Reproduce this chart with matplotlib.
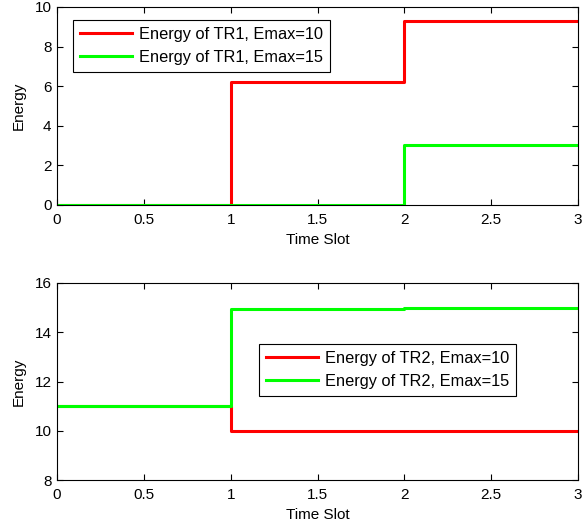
import matplotlib
matplotlib.use("Agg")
import matplotlib.pyplot as plt

plt.rcParams["font.family"] = ["Liberation Sans", "DejaVu Sans"]
plt.rcParams["font.size"] = 11

# time slots (step edges)
slots = [0, 1, 2, 3]

# subplot 1: TR1 energy
tr1_emax10 = [0, 6.2, 9.3, 9.3]
tr1_emax15 = [0, 0, 3.05, 3.05]

# subplot 2: TR2 energy
tr2_emax10 = [11, 10, 10, 10]
tr2_emax15 = [11, 14.95, 15.0, 15.0]

x_ticks = [0, 0.5, 1, 1.5, 2, 2.5, 3]
x_ticklabels = ["0", "0.5", "1", "1.5", "2", "2.5", "3"]
top_yticks = [0, 2, 4, 6, 8, 10]
bot_yticks = [8, 10, 12, 14, 16]

RED = "#ff0000"
GREEN = "#00ff00"

fig = plt.figure(figsize=(5.83, 5.27), dpi=100)
W, H = 583, 527
ax1 = fig.add_axes([57 / W, 1 - 205 / H, (578 - 57) / W, (205 - 7) / H])
ax2 = fig.add_axes([57 / W, 1 - 480 / H, (578 - 57) / W, (480 - 283) / H])


def style_axes(ax, yticks, ylim):
    ax.set_xlim(0, 3)
    ax.set_ylim(*ylim)
    ax.set_xticks(x_ticks)
    ax.set_xticklabels(x_ticklabels)
    ax.set_yticks(yticks)
    ax.tick_params(direction="in", top=True, right=True, length=4,
                   width=0.8, labelsize=11)
    ax.tick_params(axis="x", pad=6)
    ax.tick_params(axis="y", pad=4)
    for s in ax.spines.values():
        s.set_linewidth(0.8)
    ax.set_xlabel("Time Slot", labelpad=4)
    ax.set_ylabel("Energy", labelpad=6)


def add_legend(ax, anchor):
    leg = ax.legend(loc="upper left", bbox_to_anchor=anchor,
                    borderaxespad=0, frameon=True, fancybox=False,
                    edgecolor="black", framealpha=1, handlelength=3.2,
                    handletextpad=0.4, borderpad=0.42, labelspacing=0.5,
                    fontsize=11.8)
    leg.get_frame().set_linewidth(0.8)


ax1.step(slots, tr1_emax10, where="post", color=RED, lw=2.2,
         label="Energy of TR1, Emax=10")
ax1.step(slots, tr1_emax15, where="post", color=GREEN, lw=2.2,
         label="Energy of TR1, Emax=15")
style_axes(ax1, top_yticks, (0, 10))
add_legend(ax1, (0.031, 0.934))

ax2.step(slots, tr2_emax10, where="post", color=RED, lw=2.2,
         label="Energy of TR2, Emax=10")
ax2.step(slots, tr2_emax15, where="post", color=GREEN, lw=2.2,
         label="Energy of TR2, Emax=15")
style_axes(ax2, bot_yticks, (8, 16))
add_legend(ax2, (0.388, 0.69))

fig.savefig("out.png", dpi=100)
